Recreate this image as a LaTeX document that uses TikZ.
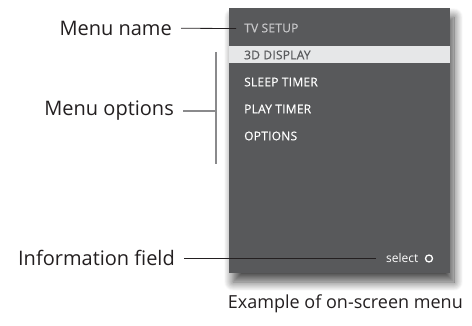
\documentclass[tikz,border=0pt]{standalone}
\usepackage{xcolor}
\usepackage{tikz}
\usepackage{fontspec}
\setmainfont{Open Sans}
\newfontfamily\menufont[FakeBold=0.4, LetterSpace=2]{Open Sans}
\definecolor{panelgray}{RGB}{88, 89, 91}
\definecolor{barlight}{RGB}{230, 231, 232}
\definecolor{inkdark}{RGB}{35, 31, 32}
\definecolor{titlegray}{RGB}{200, 200, 202}
\definecolor{bracketgray}{RGB}{138, 138, 140}
\usetikzlibrary{positioning, calc, shadows.blur}

\begin{document}
\begin{tikzpicture}[
    x=1pt, y=-1pt,
    panel/.style={rectangle, fill=panelgray, minimum width=221pt, minimum height=265pt, inner sep=0pt,
        blur shadow={shadow xshift=4pt, shadow yshift=-9pt, shadow blur steps=16, shadow blur radius=9pt, shadow opacity=70}},
    hilite/.style={rectangle, fill=barlight, minimum width=221pt, minimum height=17pt, inner sep=0pt},
    item/.style={anchor=west, inner sep=0pt, text=white, font=\menufont\fontsize{12}{14}\selectfont},
    callout/.style={anchor=east, inner ysep=0pt, inner xsep=9pt, text=inkdark, font=\fontsize{20}{24}\selectfont},
    leader/.style={draw=inkdark, line width=0.8pt},
    bracket/.style={draw=bracketgray, line width=1.2pt}
]
    \useasboundingbox (0, 0) rectangle (472, 326);

    % the on-screen menu
    \node[panel] (menu) at (339.5, 140.5) {};
    \node[hilite] (bar) at (339.5, 54.5) {};

    \node[item, text=titlegray] (title) at (244, 28) {TV SETUP};
    \node[item, text=panelgray] (opt1) at (244, 55) {3D DISPLAY};
    \node[item] (opt2) at (244, 82) {SLEEP TIMER};
    \node[item] (opt3) at (244, 109) {PLAY TIMER};
    \node[item] (opt4) at (244, 136) {OPTIONS};

    \node[item, font=\fontsize{12}{14}\selectfont] (sel) at (386, 258) {select};
    \node[circle, draw=white, line width=1.3pt, minimum size=7pt, inner sep=0pt] (selmark) at (429, 258.5) {};

    % callouts
    \node[callout] (mname) at (181, 28) {Menu name};
    \node[callout] (mopts) at (183, 111) {Menu options};
    \node[callout] (infof) at (184, 258) {Information field};

    \coordinate (nameend) at (236, 28.5);
    \coordinate (brtop) at (216, 52);
    \coordinate (brmid) at (216, 111);
    \coordinate (brbot) at (216, 164);
    \coordinate (infoend) at (376, 258);

    \draw[leader] (mname) -- (nameend);
    \draw[bracket] (brtop) -- (brbot);
    \draw[bracket] (mopts) -- (brmid);
    \draw[leader] (infof) -- (infoend);

    \node[anchor=east, inner sep=0pt, text=inkdark, font=\fontsize{18}{21}\selectfont] (caption) at (463, 304) {Example of on-screen menu};
\end{tikzpicture}
\end{document}
